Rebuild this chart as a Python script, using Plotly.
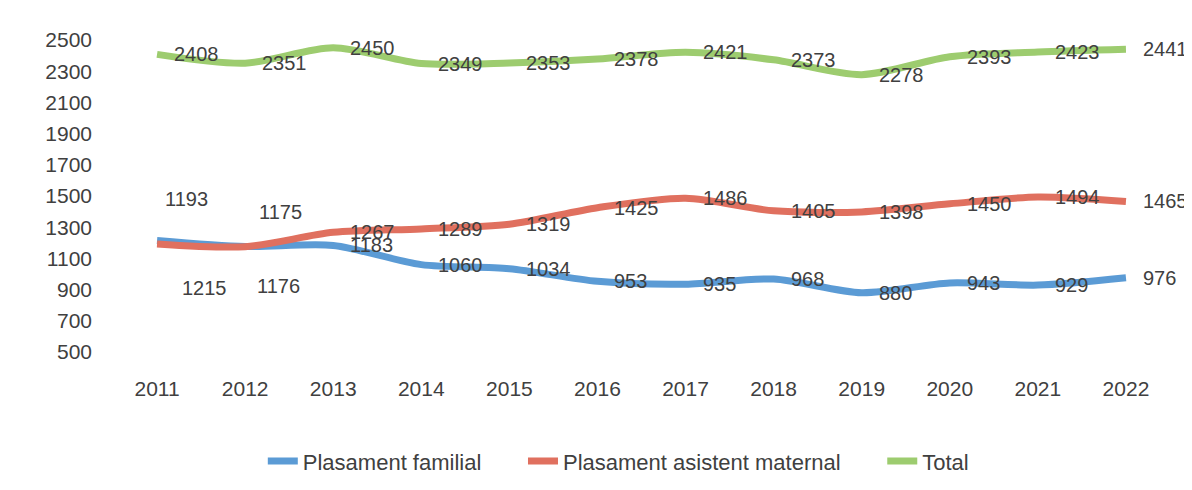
import plotly.graph_objects as go

# date
years = ['2011', '2012', '2013', '2014', '2015', '2016', '2017', '2018', '2019', '2020', '2021', '2022']
familial = [1215, 1176, 1183, 1060, 1034, 953, 935, 968, 880, 943, 929, 976]
maternal = [1193, 1175, 1267, 1289, 1319, 1425, 1486, 1405, 1398, 1450, 1494, 1465]
total = [2408, 2351, 2450, 2349, 2353, 2378, 2421, 2373, 2278, 2393, 2423, 2441]
y_ticks = [500, 700, 900, 1100, 1300, 1500, 1700, 1900, 2100, 2300, 2500]

series = [
    ("Plasament familial", familial, "#5B9BD5"),
    ("Plasament asistent maternal", maternal, "#E0705F"),
    ("Total", total, "#9DCC6F"),
]

# etichete mutate manual in original (serie, an) -> (xshift, yshift)
moved = {
    ("Plasament familial", "2011"): (23, -48),
    ("Plasament familial", "2012"): (10, -39),
    ("Plasament asistent maternal", "2011"): (6, 45),
    ("Plasament asistent maternal", "2012"): (12, 35),
}

font = "Liberation Sans, Arial, sans-serif"
pad = "\u00a0" * 6  # spatiu intre elementele legendei
fig = go.Figure()
annotations = []

for k, (name, vals, color) in enumerate(series):
    fig.add_trace(go.Scatter(
        x=years, y=vals, name=name + (pad if k < 2 else ""), mode="lines",
        line=dict(color=color, width=7, shape="spline", smoothing=0.8),
    ))
    # pe axa de categorii adnotarile folosesc indexul categoriei
    for i, (yr, v) in enumerate(zip(years, vals)):
        xs, ys = moved.get((name, yr), (15, 0))
        annotations.append(dict(
            x=i, y=v, xref="x", yref="y", text=str(v), showarrow=False,
            xanchor="left", yanchor="middle", xshift=xs, yshift=ys,
            font=dict(family=font, size=20, color="#404040"),
        ))

fig.update_layout(
    width=1192, height=490,
    margin=dict(l=105, r=30, t=32, b=146),
    paper_bgcolor="white", plot_bgcolor="white",
    font=dict(family=font, size=21, color="#404040"),
    annotations=annotations,
    showlegend=True,
    legend=dict(orientation="h", xref="container", x=0.512, xanchor="center",
                yref="container", y=0.075, yanchor="middle",
                font=dict(size=22, color="#404040")),
)
fig.update_xaxes(type="category", range=[-0.5, 11.5], showgrid=False,
                 zeroline=False, showline=False, ticks="",
                 ticklabelstandoff=22)
fig.update_yaxes(range=[500, 2500], tickvals=y_ticks, showgrid=False,
                 zeroline=False, showline=False, ticks="",
                 ticklabelstandoff=20)

fig.write_html("out.html")
